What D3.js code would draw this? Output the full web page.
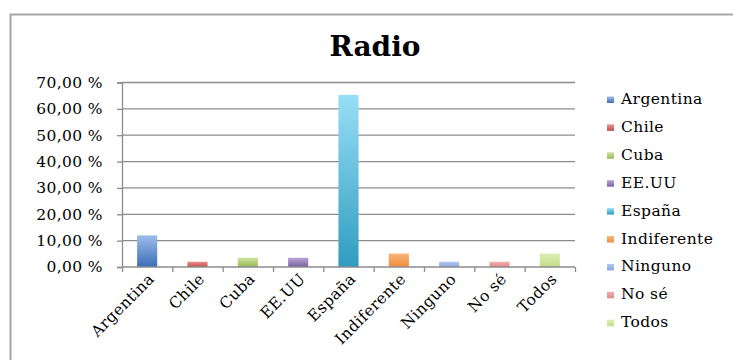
<!DOCTYPE html>
<html>
<head>
<meta charset="utf-8">
<script src="https://cdn.jsdelivr.net/npm/d3@7"></script>
<style>
  html, body { margin: 0; padding: 0; background: #fff; }
  svg { display: block; }
  text { font-family: "DejaVu Serif", serif; fill: #000; }
  .lbl { font-size: 15.5px; letter-spacing: 0.4px; }
</style>
</head>
<body>
<div id="chart"></div>
<script>
// Survey answers for "Radio", share of responses per category
const categories = ["Argentina", "Chile", "Cuba", "EE.UU", "España", "Indiferente", "Ninguno", "No sé", "Todos"];
const values = [12.0, 2.0, 3.5, 3.5, 65.3, 5.1, 2.0, 2.0, 5.1];
const yTicks = [0, 10, 20, 30, 40, 50, 60, 70];
// top / bottom gradient stops for each series
const colorsTop = ["#9dbdeb", "#ee8f8d", "#cde59c", "#b8a5d6", "#98def7", "#fbb57a", "#b2caf0", "#f3b0af", "#dcefb2"];
const colorsBottom = ["#3b6db6", "#c24f4c", "#98b956", "#7d61a0", "#2f9dbe", "#f08c3a", "#86a6dc", "#e28886", "#c4dc8c"];

const W = 733, H = 360;
const svg = d3.select("#chart").append("svg").attr("width", W).attr("height", H);

// outer chart frame (runs past the right and bottom edges)
svg.append("path")
  .attr("d", `M10.5,${H + 5} V14.5 H${W + 5}`)
  .attr("fill", "none").attr("stroke", "#a6a6a6").attr("stroke-width", 2);

const defs = svg.append("defs");
categories.forEach((c, i) => {
  const g = defs.append("linearGradient").attr("id", "grad" + i)
    .attr("x1", 0).attr("y1", 0).attr("x2", 0).attr("y2", 1);
  g.append("stop").attr("offset", "0%").attr("stop-color", colorsTop[i]);
  g.append("stop").attr("offset", "100%").attr("stop-color", colorsBottom[i]);
});

const plot = { left: 122, right: 575, top: 82.5, bottom: 267 };

const x = d3.scaleBand().domain(categories).range([plot.left, plot.right]).paddingInner(0.6).paddingOuter(0.3);
const xEdges = d3.scaleLinear().domain([0, categories.length]).range([plot.left, plot.right]);
const y = d3.scaleLinear().domain([0, 70]).range([plot.bottom, plot.top]);

// Title
svg.append("text")
  .attr("x", 375).attr("y", 56)
  .attr("text-anchor", "middle")
  .style("font-size", "28px").style("font-weight", "bold")
  .text("Radio");

// Horizontal gridlines + y axis
const fmt = v => d3.format(".2f")(v).replace(".", ",") + " %";
const yAxis = svg.append("g")
  .attr("transform", `translate(${plot.left},0)`)
  .call(d3.axisLeft(y).tickValues(yTicks).tickSize(5).tickPadding(14).tickFormat(fmt));
yAxis.select(".domain").attr("stroke", "#8c8c8c").attr("stroke-width", 1.3);
yAxis.selectAll(".tick line").attr("stroke", "#8c8c8c").attr("stroke-width", 1.3);
yAxis.selectAll(".tick text").attr("class", "lbl").style("font-family", "DejaVu Serif, serif").attr("fill", "#000");

svg.append("g").selectAll("line").data(yTicks.filter(t => t > 0)).join("line")
  .attr("x1", plot.left).attr("x2", plot.right)
  .attr("y1", d => y(d)).attr("y2", d => y(d))
  .attr("stroke", "#8c8c8c").attr("stroke-width", 1.3);

// Bars
svg.append("g").selectAll("rect").data(categories).join("rect")
  .attr("x", d => x(d)).attr("width", x.bandwidth())
  .attr("y", (d, i) => y(values[i]))
  .attr("height", (d, i) => y(0) - y(values[i]))
  .attr("fill", (d, i) => `url(#grad${i})`);

// x axis baseline with ticks at category boundaries
const xAxis = svg.append("g").attr("transform", `translate(0,${plot.bottom})`);
xAxis.call(d3.axisBottom(xEdges).ticks(categories.length).tickSize(5).tickFormat(""));
xAxis.select(".domain").attr("stroke", "#8c8c8c").attr("stroke-width", 1.3).attr("d", `M${plot.left},0H${plot.right}`);
xAxis.selectAll(".tick line").attr("stroke", "#8c8c8c").attr("stroke-width", 1.3);

// rotated category labels
svg.append("g").selectAll("text").data(categories).join("text")
  .attr("class", "lbl")
  .attr("transform", d => `translate(${x(d) + x.bandwidth() / 2 + 8},${plot.bottom + 13}) rotate(-45)`)
  .attr("text-anchor", "end")
  .text(d => d);

// Legend
const legend = svg.append("g").selectAll("g").data(categories).join("g")
  .attr("transform", (d, i) => `translate(607,${103 + i * 27.9})`);
legend.append("rect").attr("x", 0).attr("y", -6.5).attr("width", 7).attr("height", 6.5)
  .attr("fill", (d, i) => `url(#grad${i})`);
legend.append("text").attr("class", "lbl").attr("x", 14).attr("y", 1).text(d => d);
</script>
</body>
</html>
